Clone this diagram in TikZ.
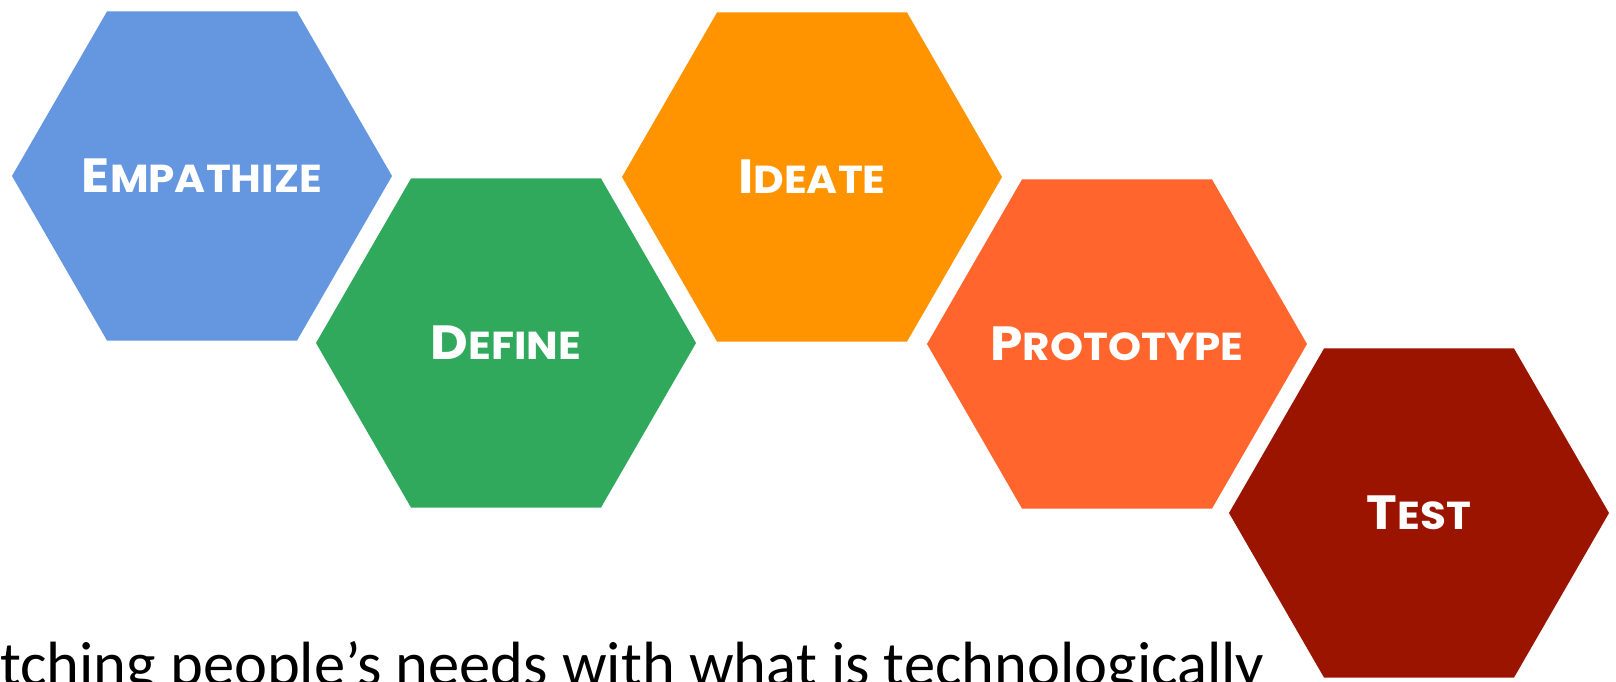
\documentclass[tikz,border=0pt]{standalone}
\usepackage{fontspec}
\usepackage{graphicx}
\usetikzlibrary{shapes.geometric}
\newfontfamily\hexfont{Poppins}
\newfontfamily\bodyfont{Carlito}
\definecolor{cEmp}{HTML}{6497E0}
\definecolor{cDef}{HTML}{31A95C}
\definecolor{cIde}{HTML}{FF9400}
\definecolor{cPro}{HTML}{FF652C}
\definecolor{cTes}{HTML}{9B1400}
\newcommand{\hexsc}[2]{\scalebox{1.08}[1]{{\fontsize{48}{48}\selectfont #1}{\fontsize{39}{39}\selectfont #2}}}
\begin{document}
\begin{tikzpicture}[x=1pt,y=-1pt,
  hexa/.style={regular polygon, regular polygon sides=6, minimum size=380pt,
    inner sep=0pt, outer sep=0pt, draw=none},
  hexlabel/.style={inner sep=0pt, text=white, font=\hexfont\bfseries}]
\useasboundingbox (0,0) rectangle (1616,681);
\clip (0,0) rectangle (1616,681);
\fill[white] (0,0) rectangle (1616,681);
\node[hexa, fill=cEmp] (emp) at (202,176) {};
\node[hexa, fill=cDef] (def) at (506,343) {};
\node[hexa, fill=cIde] (ide) at (812,177) {};
\node[hexa, fill=cPro] (pro) at (1117,344) {};
\node[hexa, fill=cTes] (tes) at (1419,513) {};
\node[hexlabel] (empl) at (emp.center) {\hexsc{E}{MPATHIZE}};
\node[hexlabel] (defl) at (def.center) {\hexsc{D}{EFINE}};
\node[hexlabel] (idel) at (ide.center) {\hexsc{I}{DEATE}};
\node[hexlabel] (prol) at (pro.center) {\hexsc{P}{ROTOTYPE}};
\node[hexlabel] (tesl) at (tes.center) {\hexsc{T}{EST}};
\node[anchor=base west, font=\bodyfont\fontsize{62.5}{62.5}\selectfont, inner sep=0pt] (txt) at (0,685) {tching people’s needs with what is technologically};
\end{tikzpicture}
\end{document}
